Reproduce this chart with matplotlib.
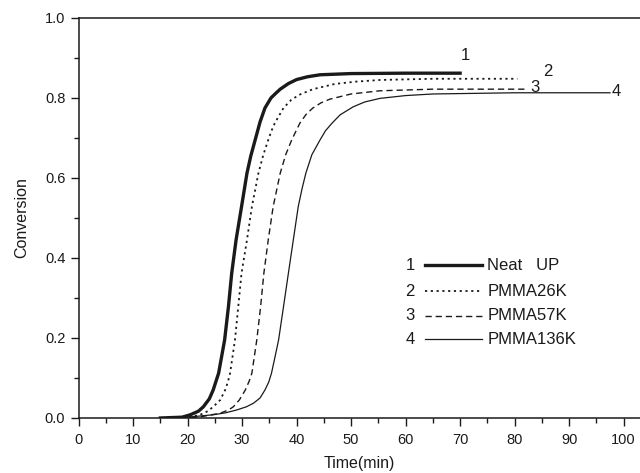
import matplotlib
matplotlib.use("Agg")
import matplotlib.pyplot as plt
from matplotlib.ticker import MultipleLocator, FormatStrFormatter

plt.rcParams['font.family'] = ['Liberation Sans', 'DejaVu Sans']

# Data
t_neat = [15, 19, 20.5, 22.0, 22.9, 24.0, 24.7, 25.7, 26.8, 27.5, 28.1, 28.9, 29.9, 30.9, 31.6, 32.4, 33.3, 34.2, 35.3, 36.2, 37.0, 38.5, 40.0, 42.0, 44.3, 50, 60, 70]
c_neat = [0, 0.002, 0.008, 0.017, 0.028, 0.048, 0.07, 0.112, 0.195, 0.278, 0.362, 0.445, 0.528, 0.612, 0.655, 0.695, 0.74, 0.775, 0.80, 0.812, 0.822, 0.836, 0.846, 0.853, 0.858, 0.861, 0.862, 0.862]

t_26k = [15, 20, 22.3, 23.7, 24.7, 26.0, 26.9, 27.4, 27.8, 28.7, 29.3, 29.9, 30.9, 31.8, 33.0, 33.9, 34.8, 35.4, 36.0, 37.6, 39.0, 40.5, 43.0, 47.0, 51.0, 55.3, 65, 80.5]
c_26k = [0, 0.001, 0.008, 0.017, 0.028, 0.045, 0.07, 0.09, 0.112, 0.195, 0.278, 0.362, 0.445, 0.528, 0.612, 0.658, 0.695, 0.718, 0.737, 0.775, 0.795, 0.808, 0.822, 0.835, 0.841, 0.845, 0.848, 0.848]

t_57k = [15, 22, 26.0, 27.5, 28.4, 29.5, 30.6, 31.3, 31.8, 32.7, 33.4, 34.0, 34.8, 35.7, 37.0, 38.0, 39.1, 40.6, 41.8, 43.0, 44.5, 46.1, 50.0, 55.3, 65, 82.3]
c_57k = [0, 0.002, 0.012, 0.02, 0.028, 0.045, 0.07, 0.092, 0.112, 0.195, 0.278, 0.362, 0.445, 0.528, 0.612, 0.658, 0.695, 0.737, 0.76, 0.775, 0.788, 0.797, 0.81, 0.818, 0.822, 0.822]

t_136k = [15, 20, 24.7, 27.0, 29.0, 30.8, 32.1, 33.3, 34.2, 34.9, 35.4, 36.0, 36.7, 37.6, 38.5, 39.4, 40.3, 41.0, 41.7, 42.8, 44.3, 45.3, 46.5, 48.0, 50.4, 52.5, 55.3, 60, 65, 80, 97.5]
c_136k = [0, 0.002, 0.008, 0.013, 0.02, 0.028, 0.037, 0.05, 0.07, 0.09, 0.112, 0.15, 0.195, 0.278, 0.362, 0.445, 0.528, 0.573, 0.612, 0.658, 0.695, 0.718, 0.737, 0.758, 0.778, 0.79, 0.799, 0.806, 0.81, 0.813, 0.813]

numbers = ["1", "2", "3", "4"]
names = ["Neat   UP", "PMMA26K", "PMMA57K", "PMMA136K"]
times = [t_neat, t_26k, t_57k, t_136k]
convs = [c_neat, c_26k, c_57k, c_136k]

styles = [
    dict(linestyle='-', linewidth=2.4),
    dict(linestyle=(0, (1.2, 2.0)), linewidth=1.3),
    dict(linestyle=(0, (4.5, 2.8)), linewidth=1.0),
    dict(linestyle='-', linewidth=0.9),
]
end_labels = [(71.0, 0.905), (86.0, 0.865), (83.8, 0.826), (98.6, 0.815)]

fig = plt.figure(figsize=(6.4, 4.73), dpi=100)
ax = fig.add_axes([0.1227, 0.1163, 0.8773, 0.8457])

for num, t, c, st, (lx, ly) in zip(numbers, times, convs, styles, end_labels):
    ax.plot(t, c, color='#1a1a1a', solid_joinstyle='round', **st)
    ax.text(lx, ly, num, fontsize=12, ha='center', va='center', color='#1a1a1a')

# in-plot legend
leg_y = [0.382, 0.317, 0.256, 0.197]
for num, name, st, y in zip(numbers, names, styles, leg_y):
    ax.text(60.8, y, num, fontsize=12, ha='center', va='center', color='#1a1a1a')
    ax.plot([63.6, 74.0], [y, y], color='#1a1a1a', **st)
    ax.text(75.0, y, name, fontsize=12, ha='left', va='center', color='#1a1a1a')

ax.set_xlim(0, 103.0)
ax.set_ylim(0, 1.0)
ax.xaxis.set_major_locator(MultipleLocator(10))
ax.xaxis.set_minor_locator(MultipleLocator(5))
ax.yaxis.set_major_locator(MultipleLocator(0.2))
ax.yaxis.set_minor_locator(MultipleLocator(0.1))
ax.yaxis.set_major_formatter(FormatStrFormatter('%.1f'))
ax.tick_params(which='major', direction='out', length=6, width=1, labelsize=10.5, colors='#1a1a1a')
ax.tick_params(which='minor', direction='out', length=3.5, width=1, colors='#1a1a1a')
ax.tick_params(axis='x', which='major', pad=5)
ax.tick_params(top=False, right=False)
ax.spines['right'].set_visible(False)
for s in ['left', 'bottom', 'top']:
    ax.spines[s].set_linewidth(1.1)
    ax.spines[s].set_color('#1a1a1a')

ax.set_xlabel('Time(min)', fontsize=11.5, labelpad=6, color='#1a1a1a')
ax.set_ylabel('Conversion', fontsize=11.5, labelpad=11, color='#1a1a1a')

fig.savefig('out.png', dpi=100)
